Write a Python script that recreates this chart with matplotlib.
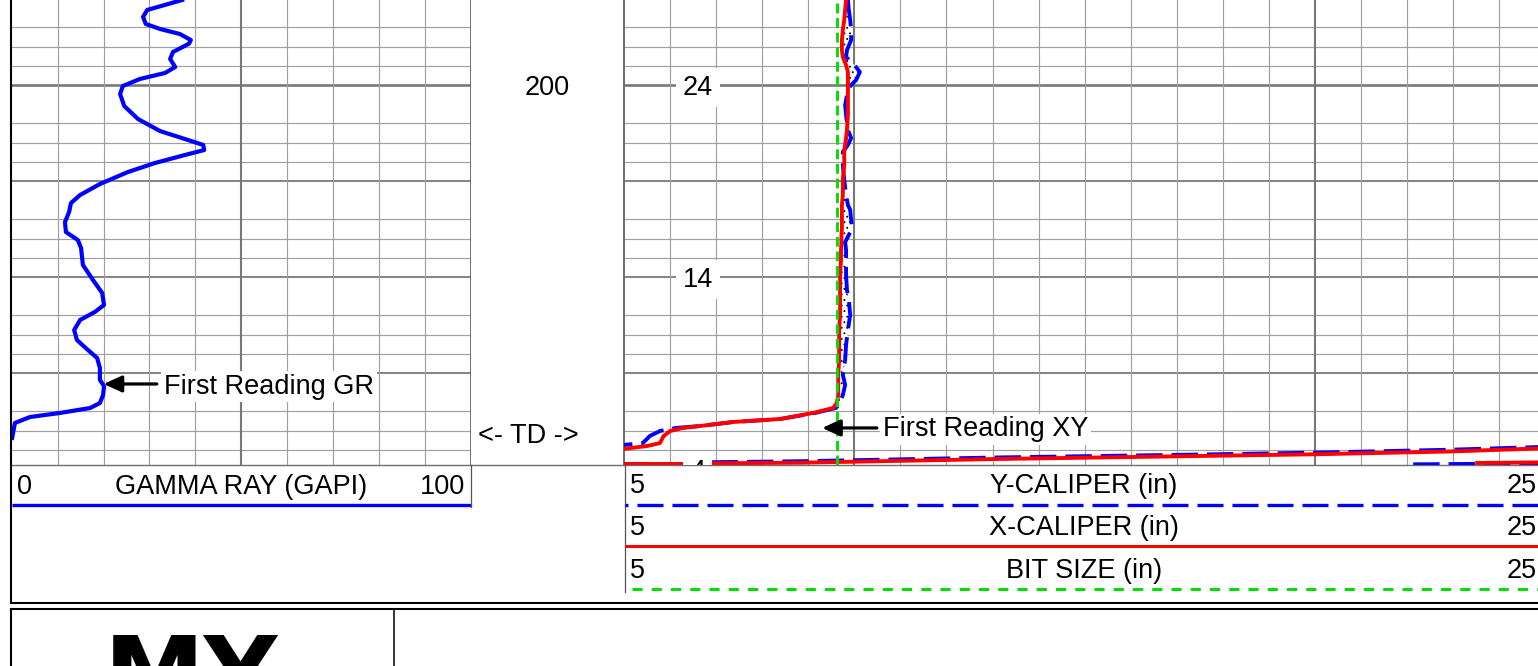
import matplotlib.pyplot as plt
from matplotlib.transforms import offset_copy

plt.rcParams['font.family'] = ['Liberation Sans', 'DejaVu Sans']
plt.rcParams['hatch.linewidth'] = 0.6
plt.rcParams['lines.solid_joinstyle'] = 'round'
plt.rcParams['lines.dash_joinstyle'] = 'round'

# ----------  Log data (depth in ft)  ----------

gr_depth = [191.15, 192.19, 192.92, 193.65, 194.17, 194.69, 195.32, 195.70, 196.57, 197.30,
            198.13, 198.75, 199.38, 200.11, 200.94, 202.19, 203.55, 204.80, 205.63, 206.25,
            206.78, 207.30, 208.13, 209.07, 210.32, 211.46, 212.30, 213.23, 214.28, 215.32,
            216.15, 216.98, 218.75, 220.32, 221.67, 222.92, 223.65, 224.48, 225.53, 226.57,
            227.61, 228.44, 229.48, 230.73, 231.36, 232.30, 233.13, 233.65, 234.17, 234.59,
            235.21, 236.77]
gr_api = [37.1, 29.5, 28.6, 29.2, 32.3, 36.6, 39.0, 38.6, 35.1, 34.5,
          35.6, 33.4, 27.9, 24.2, 23.6, 24.5, 27.5, 32.3, 37.7, 41.7,
          41.9, 37.7, 31.2, 25.3, 19.2, 14.9, 12.9, 12.5, 11.6, 11.8,
          14.4, 15.1, 15.5, 17.7, 19.7, 20.1, 18.1, 14.9, 13.6, 14.2,
          16.6, 18.6, 19.2, 19.2, 20.1, 19.9, 19.2, 17.1, 10.5, 4.0,
          0.7, 0.1]

cal_depth = [191.15, 192.19, 193.23, 194.28, 195.32, 196.36, 197.09, 197.92, 198.65, 199.48,
             200.11, 201.05, 202.09, 203.13, 204.69, 205.53, 206.25, 206.98, 208.34, 209.90,
             211.46, 212.50, 213.03, 214.07, 214.90, 215.63, 216.36, 217.19, 218.23, 219.80,
             221.36, 222.40, 223.96, 225.53, 227.09, 228.65, 230.21, 231.25, 232.30, 233.13,
             233.65, 234.17, 234.80, 235.11, 235.53, 235.73, 236.05, 236.57, 237.30, 237.51,
             237.61, 237.92]
cal_x = [9.82, 9.80, 9.78, 9.75, 9.73, 9.73, 9.75, 9.82, 9.86, 9.86,
         9.86, 9.86, 9.86, 9.86, 9.84, 9.82, 9.80, 9.78, 9.78, 9.75,
         9.75, 9.73, 9.73, 9.73, 9.73, 9.72, 9.72, 9.71, 9.71, 9.69,
         9.69, 9.69, 9.69, 9.67, 9.67, 9.67, 9.65, 9.65, 9.65, 9.62,
         9.54, 9.10, 8.39, 7.37, 6.65, 6.28, 6.00, 5.86, 5.78, 5.60,
         5.50, 4.98]
cal_y = [9.86, 9.88, 9.91, 9.93, 9.93, 9.84, 9.82, 10.00, 10.12, 10.04,
         9.91, 9.84, 9.80, 9.82, 9.86, 9.93, 9.86, 9.75, 9.75, 9.78,
         9.82, 9.86, 9.91, 9.93, 9.95, 9.88, 9.80, 9.82, 9.82, 9.82,
         9.84, 9.88, 9.91, 9.86, 9.82, 9.80, 9.75, 9.80, 9.75, 9.69,
         9.60, 9.15, 8.39, 7.37, 6.65, 6.13, 5.78, 5.56, 5.41, 4.98,
         4.98, 4.98]
bit_size = 9.625

# caliper readings wrapping round the track below the first reading
x_tail_depth = [[239.47, 239.47],
                [239.43, 239.35, 238.96, 238.65, 238.47, 238.18, 237.87, 237.80],
                [239.38, 239.30]]
x_tail_in = [[4.98, 6.35],
             [6.43, 8.82, 13.16, 17.50, 20.02, 22.93, 24.84, 25.30],
             [23.52, 25.30]]
y_tail_depth = [[239.50, 239.50],
                [239.30, 239.20, 238.80, 238.50, 238.30, 238.00, 237.72, 237.65],
                [239.52, 239.42]]
y_tail_in = [[4.98, 6.35],
             [6.90, 8.82, 13.16, 17.50, 20.02, 22.93, 24.84, 25.30],
             [22.13, 25.30]]

# ----------  Annotations  ----------

depth_labels = [200]
td_depth = 236.25
track_label_depth = [200, 220, 240]
track_label_text = ['24', '14', '4']
gr_first = (20.0, 231.15)
xy_first = (9.30, 235.73)

# ----------  Layout (pixels)  ----------

W, H = 1538, 666
FS = 19.5
top_depth, bot_depth = 191.15, 239.59
MINOR, MAJOR = '#a0a0a0', '#787878'

fig = plt.figure(figsize=(W / 100, H / 100), dpi=100)


def px_axes(x0, x1, y0, y1):
    return fig.add_axes([x0 / W, 1 - y1 / H, (x1 - x0) / W, (y1 - y0) / H])


def depth_grid(ax):
    for d in range(192, 240, 2):
        if d % 10 == 2:
            continue
        if d == 200:
            ax.axhline(d, color=MAJOR, lw=1.9, zorder=1)
        elif d % 10 == 0:
            ax.axhline(d, color=MAJOR, lw=1.3, zorder=1)
        else:
            ax.axhline(d, color=MINOR, lw=0.85, zorder=1)


ax_gr = px_axes(11.7, 471, 0, 465)
ax_dp = px_axes(471, 624, 0, 465)
ax_cal = px_axes(624, 1545.4, 0, 465)

for ax in (ax_gr, ax_dp, ax_cal):
    ax.set_ylim(bot_depth, top_depth)
    ax.tick_params(left=False, bottom=False, labelleft=False, labelbottom=False)
    for s in ax.spines.values():
        s.set_visible(False)
    ax.spines['bottom'].set_visible(True)
    ax.spines['bottom'].set_color('#6e6e6e')
    ax.spines['bottom'].set_linewidth(1.0)

ax_gr.spines['right'].set_visible(True)
ax_gr.spines['right'].set_color('#6e6e6e')
ax_gr.spines['right'].set_linewidth(1.4)
ax_cal.spines['left'].set_visible(True)
ax_cal.spines['left'].set_color('#6e6e6e')
ax_cal.spines['left'].set_linewidth(1.4)

# --- gamma ray track ---
ax_gr.set_xlim(0, 100)
depth_grid(ax_gr)
for v in range(10, 100, 10):
    ax_gr.axvline(v, color=MAJOR if v == 50 else MINOR, lw=1.5 if v == 50 else 0.85, zorder=1)
ax_gr.plot(gr_api, gr_depth, color='#0000ff', lw=3.0, zorder=4)

ax_gr.annotate('', xy=gr_first, xytext=(31.6, gr_first[1]),
               arrowprops=dict(arrowstyle='-|>,head_length=0.55,head_width=0.25',
                               color='black', lw=2.3, mutation_scale=20,
                               shrinkA=0, shrinkB=0), zorder=6)
ax_gr.text(33.2, gr_first[1], 'First Reading GR', fontsize=FS, ha='left', va='baseline',
           transform=offset_copy(ax_gr.transData, fig=fig, x=0, y=-7, units='points'),
           bbox=dict(boxstyle='square,pad=0.1', fc='white', ec='none'), zorder=5)

# --- depth track ---
ax_dp.set_xlim(0, 1)
dp_tr = offset_copy(ax_dp.get_yaxis_transform(), fig=fig, x=0, y=-7, units='points')
for d in depth_labels:
    ax_dp.text(0.5, d, str(d), fontsize=FS, ha='center', va='baseline', transform=dp_tr)
ax_dp.text(0.373, td_depth, '<- TD ->', fontsize=FS, ha='center', va='baseline', transform=dp_tr)

# --- caliper track ---
ax_cal.set_xlim(5, 25)
depth_grid(ax_cal)
for v in range(6, 25):
    major = v in (10, 20)
    ax_cal.axvline(v, color=MAJOR if major else MINOR, lw=1.5 if major else 0.85, zorder=1)

ax_cal.fill_betweenx(cal_depth, cal_x, cal_y, where=[b > a for a, b in zip(cal_x, cal_y)],
                     interpolate=True, facecolor='white', edgecolor='black', hatch='...',
                     lw=0, zorder=2)
ax_cal.plot(cal_y, cal_depth, color='#0000ff', lw=2.8, linestyle=(0, (6.8, 2.3)), zorder=3)
ax_cal.plot(cal_x, cal_depth, color='#ff0000', lw=2.8, zorder=4)
for xs, ds in zip(y_tail_in, y_tail_depth):
    ax_cal.plot(xs, ds, color='#0000ff', lw=2.8, linestyle=(0, (6.8, 2.3)), zorder=3)
for xs, ds in zip(x_tail_in, x_tail_depth):
    ax_cal.plot(xs, ds, color='#ff0000', lw=2.8, zorder=4)
ax_cal.axvline(bit_size, color='#00e000', lw=2.1, linestyle=(0, (3.4, 1.6)), zorder=5)

cal_tr = offset_copy(ax_cal.transData, fig=fig, x=0, y=-7, units='points')
for d, s in zip(track_label_depth, track_label_text):
    ax_cal.text(6.6, d, s, fontsize=FS, ha='center', va='baseline', transform=cal_tr,
                bbox=dict(boxstyle='square,pad=0.25', fc='white', ec='none'),
                zorder=6, clip_on=True)

ax_cal.annotate('', xy=xy_first, xytext=(10.49, xy_first[1]),
                arrowprops=dict(arrowstyle='-|>,head_length=0.55,head_width=0.25',
                                color='black', lw=2.3, mutation_scale=20,
                                shrinkA=0, shrinkB=0), zorder=6)
ax_cal.text(10.62, xy_first[1], 'First Reading XY', fontsize=FS, ha='left', va='baseline',
            transform=offset_copy(ax_cal.transData, fig=fig, x=0, y=-6, units='points'),
            bbox=dict(boxstyle='square,pad=0.1', fc='white', ec='none'), zorder=6)

# ----------  Header / frame overlay (pixel coords)  ----------

ov = fig.add_axes([0, 0, 1, 1], zorder=10)
ov.set_xlim(0, W)
ov.set_ylim(H, 0)
ov.axis('off')

# gamma ray header
ov.text(17, 494, '0', fontsize=FS, ha='left', va='baseline')
ov.text(241, 494, 'GAMMA RAY (GAPI)', fontsize=FS, ha='center', va='baseline')
ov.text(465, 494, '100', fontsize=FS, ha='right', va='baseline')
ov.plot([11.7, 471], [504.5, 504.5], color='#0000ff', lw=2.4, solid_capstyle='butt')
ov.plot([471, 471], [465, 507], color='#555555', lw=0.9)

# caliper header
ov.plot([624.5, 624.5], [465, 592], color='#555555', lw=0.9)
rows = [('Y-CALIPER (in)', 493), ('X-CALIPER (in)', 535), ('BIT SIZE (in)', 578)]
for title, yb in rows:
    ov.text(630, yb, '5', fontsize=FS, ha='left', va='baseline')
    ov.text(1084, yb, title, fontsize=FS, ha='center', va='baseline')
    ov.text(1537, yb, '25', fontsize=FS, ha='right', va='baseline')
ov.plot([624.5, 1545], [504.5, 504.5], color='#0000ff', lw=2.4,
        linestyle=(6.9, (7.8, 2.7)), solid_capstyle='butt')
ov.plot([624.5, 1545], [546, 546], color='#ff0000', lw=2.2, solid_capstyle='butt')
ov.plot([632, 1545], [589, 589], color='#00e000', lw=2.2, linestyle=(0, (3.3, 3.0)))

# outer frame and lower title box
ov.plot([11, 11], [0, 602.5], color='black', lw=1.5)
ov.plot([11, W], [602.5, 602.5], color='black', lw=1.5)
ov.plot([11, W], [609, 609], color='black', lw=1.5)
ov.plot([11, 11], [609, H], color='black', lw=1.5)
ov.plot([394, 394], [609, H], color='black', lw=1.1)
ov.text(104, 709, 'MY', fontsize=73, fontweight='bold', family='DejaVu Sans',
        ha='left', va='baseline')

plt.savefig('out.png', dpi=100)
